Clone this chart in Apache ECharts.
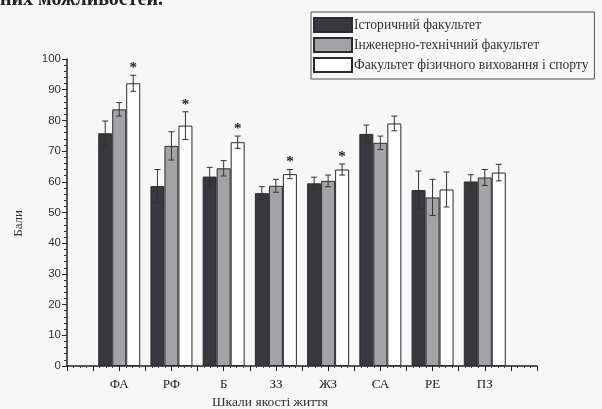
<!DOCTYPE html>
<html>
<head>
<meta charset="utf-8">
<script src="https://cdn.jsdelivr.net/npm/echarts@6/dist/echarts.min.js"></script>
<style>
html,body{margin:0;padding:0;background:#f7f7f7;}
#chart{width:602px;height:409px;}
</style>
</head>
<body>
<div id="chart"></div>
<script>
// ---- data ----
const categories = ['ФА', 'РФ', 'Б', 'ЗЗ', 'ЖЗ', 'СА', 'РЕ', 'ПЗ'];
const seriesNames = ['Історичний факультет', 'Інженерно-технічний факультет', 'Факультет фізичного виховання і спорту'];
const histValues = [75.8, 58.6, 61.7, 56.3, 59.5, 75.6, 57.3, 60.1];
const histErrors = [4.0, 5.4, 3.0, 2.1, 2.0, 2.9, 6.2, 2.2];
const engValues = [83.6, 71.7, 64.4, 58.7, 60.3, 72.7, 54.9, 61.4];
const engErrors = [2.2, 4.6, 2.5, 2.1, 1.9, 2.2, 5.9, 2.6];
const sportValues = [92.1, 78.3, 72.9, 62.5, 64.0, 79.0, 57.5, 63.0];
const sportErrors = [2.6, 4.5, 2.0, 1.5, 1.8, 2.4, 5.7, 2.7];
const significant = [1, 1, 1, 1, 1, 0, 0, 0];
const yTicks = [0, 10, 20, 30, 40, 50, 60, 70, 80, 90, 100];

// ---- build ----
const axisCats = [''].concat(categories, ['']);
const pad = arr => [null].concat(arr, [null]);
const BAR_W = 14;
const colors = ['#38383e', '#a3a3a6', '#ffffff'];
const allVals = [histValues, engValues, sportValues];
const allErrs = [histErrors, engErrors, sportErrors];

const barSeries = seriesNames.map((name, k) => ({
  name: name,
  type: 'bar',
  xAxisIndex: 0,
  data: pad(allVals[k]),
  barWidth: BAR_W,
  barGap: '0%',
  itemStyle: { color: colors[k], borderColor: '#2a2a30', borderWidth: 1 },
  z: 2,
  silent: true
}));

const errData = [];
for (let k = 0; k < 3; k++) {
  for (let i = 0; i < categories.length; i++) {
    errData.push([i + 1, allVals[k][i], allErrs[k][i], k, k === 2 ? significant[i] : 0]);
  }
}

const errSeries = {
  type: 'custom',
  xAxisIndex: 0,
  data: errData,
  z: 5,
  silent: true,
  renderItem: function (params, api) {
    const x = api.value(0), v = api.value(1), e = api.value(2), k = api.value(3), s = api.value(4);
    const top = api.coord([x, v + e]);
    const bot = api.coord([x, v - e]);
    const cx = top[0] + (k - 1) * BAR_W;
    const cap = 3;
    const st = { stroke: '#333', lineWidth: 1 };
    const children = [
      { type: 'line', shape: { x1: cx, y1: top[1], x2: cx, y2: bot[1] }, style: st },
      { type: 'line', shape: { x1: cx - cap, y1: top[1], x2: cx + cap, y2: top[1] }, style: st },
      { type: 'line', shape: { x1: cx - cap, y1: bot[1], x2: cx + cap, y2: bot[1] }, style: st }
    ];
    if (s) {
      children.push({ type: 'text', style: { text: '*', x: cx, y: top[1] - 7, fill: '#222', font: 'bold 15px "Liberation Serif"', textAlign: 'center', textVerticalAlign: 'middle' } });
    }
    return { type: 'group', children: children };
  }
};

const chart = echarts.init(document.getElementById('chart'));
chart.setOption({
  backgroundColor: '#f7f7f7',
  animation: false,
  grid: { left: 67, right: 65, top: 59, bottom: 43 },
  legend: {
    orient: 'vertical',
    left: 311, top: 12,
    padding: [5, 6, 6, 2],
    itemWidth: 38, itemHeight: 14, itemGap: 4,
    borderColor: '#555', borderWidth: 1,
    backgroundColor: '#f7f7f7',
    icon: 'rect',
    data: seriesNames,
    textStyle: { fontFamily: 'Liberation Serif', fontSize: 13.6, color: '#333', padding: [0, 0, 0, -3] }
  },
  xAxis: [
    { type: 'category', data: axisCats, boundaryGap: false, show: false },
    {
      type: 'value', min: 0, max: 9, interval: 0.5, position: 'bottom',
      axisLine: { show: true, lineStyle: { color: '#222', width: 1.5 } },
      axisTick: { show: true, length: 5, lineStyle: { color: '#222', width: 1 } },
      minorTick: { show: true, splitNumber: 4, length: 2, lineStyle: { color: '#444' } },
      splitLine: { show: false },
      axisLabel: {
        margin: 12,
        fontFamily: 'Liberation Serif', fontSize: 13, color: '#222',
        formatter: function (v) { return (Number.isInteger(v) && v >= 1 && v <= categories.length) ? categories[v - 1] : ''; }
      }
    }
  ],
  yAxis: {
    type: 'value', min: yTicks[0], max: yTicks[yTicks.length - 1], interval: 10,
    axisLine: { show: true, lineStyle: { color: '#222', width: 1.5 } },
    axisTick: { show: true, length: 5, lineStyle: { color: '#222' } },
    minorTick: { show: true, splitNumber: 5, length: 3, lineStyle: { color: '#333' } },
    splitLine: { show: false },
    axisLabel: { margin: 6, fontFamily: 'Liberation Sans', fontSize: 11.5, color: '#333' }
  },
  graphic: [
    { type: 'text', left: 12, top: 210, rotation: Math.PI / 2, style: { text: 'Бали', font: '13px "Liberation Serif"', fill: '#333' } },
    { type: 'text', left: 212, top: 395, style: { text: 'Шкали якості життя', font: '13.5px "Liberation Serif"', fill: '#333' } },
    { type: 'text', left: 0, top: -10, style: { text: 'них можливостей.', font: 'bold 20px "Liberation Serif"', fill: '#222' } }
  ],
  series: barSeries.concat([errSeries])
});
</script>
</body>
</html>
